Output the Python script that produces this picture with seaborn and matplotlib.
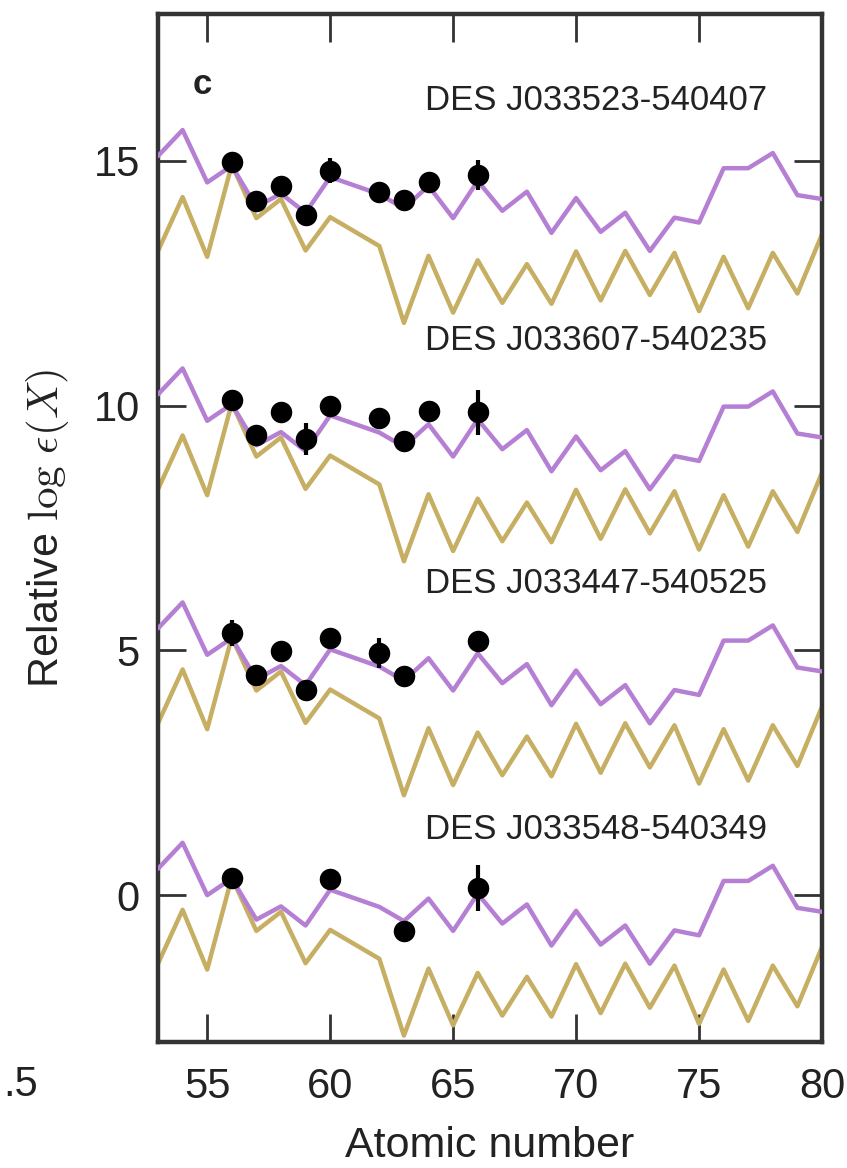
import numpy as np
import pandas as pd
import matplotlib
matplotlib.use("Agg")
import matplotlib.pyplot as plt
import seaborn as sns

# ---------------- data ----------------
z_model = [53, 54, 55, 56, 57, 58, 59, 60, 62, 63, 64, 65, 66, 67, 68, 69, 70,
           71, 72, 73, 74, 75, 76, 77, 78, 79, 80]
# scaled solar r-process pattern (top star normalisation)
purple_model = [15.10, 15.63, 14.56, 14.90, 14.06, 14.33, 13.94, 14.67, 14.32,
                14.03, 14.49, 13.83, 14.59, 13.98, 14.37, 13.53, 14.24, 13.55,
                13.94, 13.16, 13.84, 13.74, 14.85, 14.85, 15.16, 14.30, 14.22]
gold_model = [13.16, 14.26, 13.04, 14.92, 13.83, 14.22, 13.17, 13.85, 13.26,
              11.69, 13.06, 11.90, 12.97, 12.10, 12.89, 12.08, 13.15, 12.15,
              13.16, 12.26, 13.12, 11.93, 13.04, 11.99, 13.12, 12.29, 13.50]
# per-star vertical normalisation offsets of the model patterns
star_offsets = [0.0, -4.87, -9.65, -14.56]

star_names = ["DES J033523-540407", "DES J033607-540235",
              "DES J033447-540525", "DES J033548-540349"]

z_star1 = [56, 57, 58, 59, 60, 62, 63, 64, 66]
v_star1 = [14.97, 14.18, 14.49, 13.90, 14.80, 14.37, 14.20, 14.56, 14.71]
e_star1 = [0.10, 0.10, 0.10, 0.10, 0.26, 0.10, 0.10, 0.20, 0.30]

z_star2 = [56, 57, 58, 59, 60, 62, 63, 64, 66]
v_star2 = [10.12, 9.39, 9.86, 9.32, 10.00, 9.75, 9.28, 9.88, 9.86]
e_star2 = [0.10, 0.10, 0.10, 0.32, 0.10, 0.10, 0.10, 0.10, 0.45]

z_star3 = [56, 57, 58, 59, 60, 62, 63, 66]
v_star3 = [5.35, 4.49, 4.98, 4.20, 5.25, 4.95, 4.47, 5.20]
e_star3 = [0.27, 0.10, 0.12, 0.10, 0.10, 0.30, 0.10, 0.10]

z_star4 = [56, 60, 63, 66]
v_star4 = [0.34, 0.33, -0.74, 0.14]
e_star4 = [0.10, 0.10, 0.22, 0.47]

label_y = [16.23, 11.33, 6.37, 1.34]

x_ticks = [55, 60, 65, 70, 75, 80]
y_ticks = [0, 5, 10, 15]

# ---------------- style ----------------
sns.set_theme(style="ticks")
plt.rcParams["font.family"] = ["Liberation Sans", "DejaVu Sans"]
plt.rcParams["mathtext.fontset"] = "cm"

purple = "#b57fd4"
gold = "#c6ae63"
spine_col = "#333333"

fig = plt.figure(figsize=(8.47, 11.68), dpi=100)
ax = fig.add_axes([158 / 847, 1 - 1042 / 1168, (822 - 158) / 847, (1042 - 14) / 1168])

stars = [(z_star1, v_star1, e_star1), (z_star2, v_star2, e_star2),
         (z_star3, v_star3, e_star3), (z_star4, v_star4, e_star4)]

for i, off in enumerate(star_offsets):
    dfm = pd.DataFrame({"Z": z_model,
                        "purple": np.array(purple_model) + off,
                        "gold": np.array(gold_model) + off})
    sns.lineplot(data=dfm, x="Z", y="gold", color=gold, lw=3.2, ax=ax,
                 sort=False, zorder=2, clip_on=True)
    sns.lineplot(data=dfm, x="Z", y="purple", color=purple, lw=3.2, ax=ax,
                 sort=False, zorder=3, clip_on=True)
    zs, vs, es = stars[i]
    ax.errorbar(zs, vs, yerr=es, fmt="none", ecolor="black", elinewidth=3.0,
                capsize=0, zorder=4)
    sns.scatterplot(x=zs, y=vs, color="black", s=240, edgecolor="black",
                    linewidth=0, ax=ax, zorder=5)
    ax.text(77.75, label_y[i], star_names[i], ha="right", va="center",
            fontsize=25, color="#222222")

ax.text(54.8, 16.55, "c", fontsize=25, fontweight="bold", ha="center",
        va="center", color="#222222")

ax.set_xlim(53, 80)
ax.set_ylim(-3, 18)
ax.set_xticks(x_ticks)
ax.set_yticks(y_ticks)
ax.set_xticklabels([str(t) for t in x_ticks])
ax.set_yticklabels([str(t) for t in y_ticks])
ax.tick_params(axis="both", direction="in", length=20, width=2.0,
               color=spine_col, labelsize=30, labelcolor="#222222",
               top=True, right=True)
ax.tick_params(axis="x", pad=18)
ax.tick_params(axis="y", pad=13)
for s in ax.spines.values():
    s.set_linewidth(3.2)
    s.set_color(spine_col)
    s.set_visible(True)

ax.set_xlabel("Atomic number", fontsize=31, color="#222222", labelpad=14)
ax.set_ylabel(r"Relative $\log\,\epsilon(X)$", fontsize=31, color="#222222",
              labelpad=16)

fig.text(3 / 847, 1 - 1085 / 1168, ".5", fontsize=30, color="#222222",
         ha="left", va="center")

fig.savefig("out.png", dpi=100)
